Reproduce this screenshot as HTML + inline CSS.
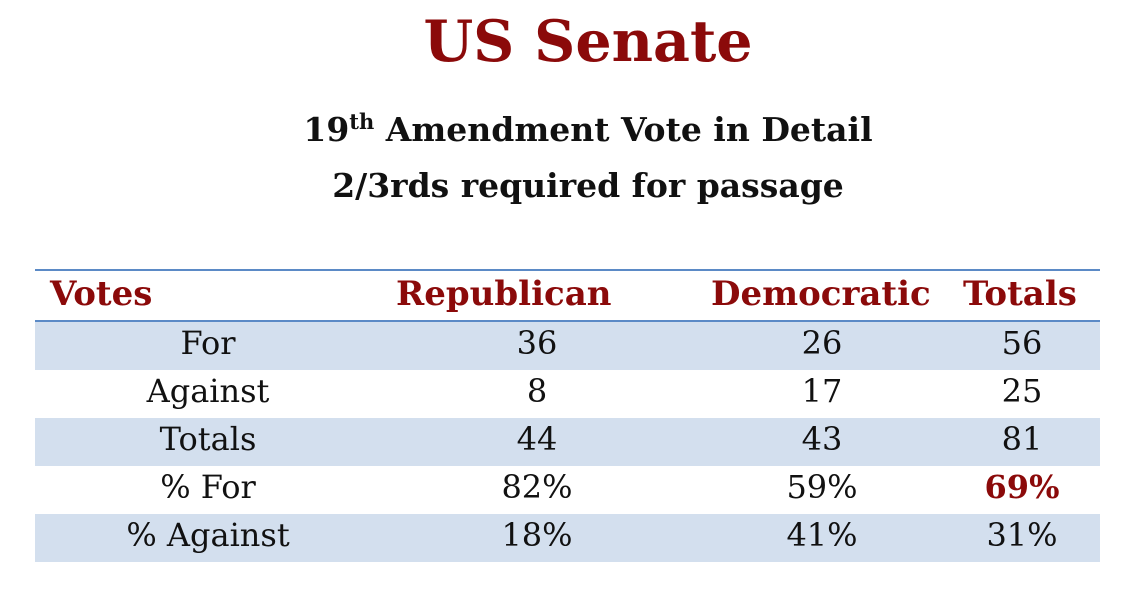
<!DOCTYPE html>
<html><head><style>
body{margin:0;width:1148px;height:596px;background:#fff;font-family:"DejaVu Serif",serif;position:relative;overflow:hidden}
h1{position:absolute;left:588px;top:0px;margin:0;font-size:57px;line-height:84px;color:#8b0a0a;font-weight:bold;transform:translateX(-50%);white-space:nowrap}
.sub{position:absolute;font-weight:bold;font-size:33px;line-height:44px;color:#111;white-space:nowrap;transform:translateX(-50%);left:588px}
.line{position:absolute;left:35px;width:1065px;height:2px;background:#5b8ac6}
.row{position:absolute;left:35px;width:1065px;height:48px}
.sh{background:#d3dfee}
.c{position:absolute;font-size:32px;line-height:44px;color:#111;transform:translateX(-50%);white-space:nowrap}
.h{position:absolute;font-size:34px;line-height:44px;font-weight:bold;color:#8b0a0a;white-space:nowrap}
</style></head><body>
<h1>US Senate</h1>
<div class="sub" style="top:108px">19<sup style="font-size:21px;line-height:0">th</sup> Amendment Vote in Detail</div>
<div class="sub" style="top:164px">2/3rds required for passage</div>
<div class="line" style="top:269px"></div>
<div class="h" style="left:50px;top:272px">Votes</div>
<div class="h" style="left:396px;top:272px">Republican</div>
<div class="h" style="left:711px;top:272px">Democratic</div>
<div class="h" style="left:963px;top:272px">Totals</div>
<div class="line" style="top:320px"></div>
<div class="row sh" style="top:322px"></div>
<div class="row sh" style="top:418px"></div>
<div class="row sh" style="top:514px"></div>
<div class="c" style="left:208px;top:321px">For</div><div class="c" style="left:537px;top:321px">36</div><div class="c" style="left:822px;top:321px">26</div><div class="c" style="left:1022px;top:321px">56</div>
<div class="c" style="left:208px;top:369px">Against</div><div class="c" style="left:537px;top:369px">8</div><div class="c" style="left:822px;top:369px">17</div><div class="c" style="left:1022px;top:369px">25</div>
<div class="c" style="left:208px;top:417px">Totals</div><div class="c" style="left:537px;top:417px">44</div><div class="c" style="left:822px;top:417px">43</div><div class="c" style="left:1022px;top:417px">81</div>
<div class="c" style="left:208px;top:465px">% For</div><div class="c" style="left:537px;top:465px">82%</div><div class="c" style="left:822px;top:465px">59%</div><div class="c" style="left:1022px;top:465px;color:#8b0a0a;font-weight:bold">69%</div>
<div class="c" style="left:208px;top:513px">% Against</div><div class="c" style="left:537px;top:513px">18%</div><div class="c" style="left:822px;top:513px">41%</div><div class="c" style="left:1022px;top:513px">31%</div>
</body></html>
